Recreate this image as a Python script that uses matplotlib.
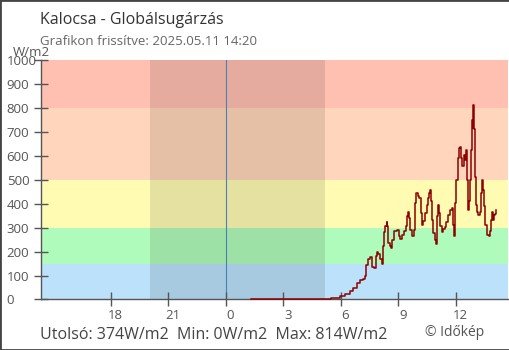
import matplotlib
matplotlib.use('Agg')
import matplotlib.pyplot as plt
import matplotlib.transforms as mtransforms
from matplotlib.patches import Rectangle
import numpy as np

plt.rcParams['font.family'] = ['Open Sans', 'DejaVu Sans']

# Radiation samples: minutes after midnight and W/m2
minutes = [80, 310, 313, 329, 345, 357, 373, 389, 398, 411, 420, 429, 436, 439, 445,
           451, 458, 464, 470, 474, 478, 483, 488, 491, 495, 498, 504, 506, 509, 514,
           519, 522, 526, 535, 540, 543, 547, 553, 559, 563, 568, 571, 574, 577, 582,
           587, 590, 593, 597, 603, 606, 610, 615, 618, 623, 629, 634, 637, 640, 642,
           645, 650, 655, 658, 662, 665, 668, 672, 677, 681, 686, 691, 696, 702, 707,
           710, 712, 715, 718, 722, 726, 730, 734, 737, 741, 745, 749, 752, 754, 757,
           760, 762, 764, 767, 770, 773, 775, 777, 780, 783, 786, 790, 795, 800, 803,
           806, 809, 813, 817, 823, 827, 831, 834, 837, 840, 843, 846]
radiation = [0, 0, 3, 5, 8, 15, 25, 35, 50, 70, 83, 87, 100, 146, 167,
             179, 135, 130, 180, 200, 192, 168, 148, 225, 280, 306, 322, 306, 236, 222,
             215, 250, 285, 289, 292, 264, 253, 271, 285, 308, 347, 364, 340, 292, 264,
             264, 292, 403, 444, 433, 424, 361, 312, 326, 361, 396, 424, 444, 458, 410,
             333, 278, 250, 233, 347, 396, 361, 306, 281, 294, 303, 322, 354, 372, 381,
             340, 312, 267, 403, 497, 590, 632, 636, 590, 556, 604, 583, 625, 497, 417,
             375, 410, 497, 625, 750, 715, 814, 711, 511, 396, 364, 354, 364, 444, 500,
             458, 389, 312, 271, 264, 285, 333, 364, 333, 354, 358, 374]

# Colour bands for the radiation levels
band_edges = [0, 150, 300, 500, 800, 1000]
band_colors = ['#bbe1fb', '#affbbb', '#fffbb3', '#ffd6bb', '#ffbfb1']

# Night (hours relative to midnight)
sunset = -3.95
sunrise = 5.17

tick_pos = [-6, -3, 0, 3, 6, 9, 12]
tick_labels = ['18', '21', '0', '3', '6', '9', '12']

fig = plt.figure(figsize=(5.1, 3.5), dpi=100)
ax = fig.add_axes([0.0798, 0.1443, 0.916, 0.6843])

for lo, hi, c in zip(band_edges[:-1], band_edges[1:], band_colors):
    ax.axhspan(lo, hi, color=c, lw=0, zorder=0)
ax.axvspan(sunset, sunrise, color='black', alpha=0.1, lw=0, zorder=1)
ax.axvline(0, color='#4a80b4', lw=0.8, zorder=1.5)

hours = np.array(minutes) / 60.0
ax.plot(hours, radiation, color='#8b0000', lw=1.1, drawstyle='steps-post',
        zorder=3, clip_on=False)

ax.set_xlim(-9.65, 14.72)
ax.set_ylim(0, 1000)
ax.set_yticks(range(0, 1001, 100))
ax.set_xticks(tick_pos)
ax.set_xticklabels(tick_labels)

for side in ['top', 'right']:
    ax.spines[side].set_visible(False)
for side in ['left', 'bottom']:
    ax.spines[side].set_color('#555555')
    ax.spines[side].set_linewidth(1)

ax.tick_params(axis='both', direction='inout', length=10, width=1,
               color='#555555', labelcolor='#555555', labelsize=9.5)
ax.tick_params(axis='x', pad=1.5)
ax.tick_params(axis='y', pad=19.5)
for lab in ax.get_yticklabels():
    lab.set_horizontalalignment('left')
shift = mtransforms.ScaledTranslation(4.5 / 100, 0, fig.dpi_scale_trans)
for lab in ax.get_xticklabels():
    lab.set_transform(lab.get_transform() + shift)

fig.text(12.7 / 510, 1 - 56.5 / 350, 'W/m2', color='#555555', fontsize=9.5, va='baseline')
fig.text(40 / 510, 1 - 24.5 / 350, 'Kalocsa - Globálsugárzás', color='#333333',
         fontsize=11.5, va='baseline')
fig.text(40 / 510, 1 - 45 / 350, 'Grafikon frissítve: 2025.05.11 14:20', color='#666666',
         fontsize=9.5, va='baseline')

stats = f'Utolsó: {radiation[-1]}W/m2  Min: {min(radiation)}W/m2  Max: {max(radiation)}W/m2'
fig.text(40 / 510, 1 - 339 / 350, stats, color='#444444', fontsize=11.5, va='baseline')
fig.text(425 / 510, 1 - 335.5 / 350, '© Időkép', color='#555555', fontsize=10, va='baseline')

fig.patches.append(Rectangle((0, 0), 1, 1, transform=fig.transFigure, fill=False,
                             ec='#444444', lw=2))

fig.savefig('out.png', dpi=100)
